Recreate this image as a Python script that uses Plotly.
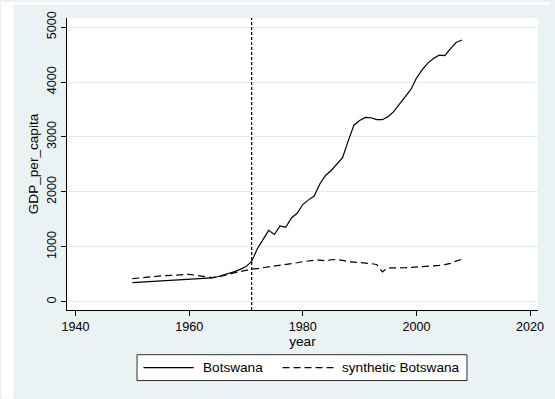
import plotly.graph_objects as go

# GDP per capita, Botswana vs. its synthetic control
years = [1950, 1955, 1960, 1964, 1965, 1966, 1967, 1968, 1969, 1970,
         1971, 1972, 1973, 1974, 1975, 1976, 1977, 1978, 1979, 1980,
         1981, 1982, 1983, 1984, 1985, 1986, 1987, 1988, 1989, 1990,
         1991, 1992, 1993, 1994, 1995, 1996, 1997, 1998, 1999, 2000,
         2001, 2002, 2003, 2004, 2005, 2006, 2007, 2008]

botswana = [350, 378, 406, 434, 455, 483, 515, 548, 590, 640,
            735, 965, 1130, 1300, 1225, 1380, 1356, 1525, 1610, 1770,
            1855, 1925, 2145, 2300, 2390, 2500, 2625, 2930, 3215, 3300,
            3355, 3350, 3315, 3315, 3370, 3460, 3600, 3740, 3860, 4070,
            4220, 4345, 4430, 4490, 4480, 4610, 4720, 4765]

synthetic = [420, 470, 500, 440, 450, 470, 500, 530, 555, 575,
             592, 605, 618, 632, 646, 660, 676, 692, 710, 730,
             748, 755, 758, 745, 765, 770, 752, 730, 722, 715,
             705, 695, 678, 545, 615, 613, 615, 620, 625, 630,
             637, 645, 652, 662, 676, 700, 740, 775]

treatment_year = 1971

x_ticks = [1940, 1960, 1980, 2000, 2020]
y_ticks = [0, 1000, 2000, 3000, 4000, 5000]

series_names = ["Botswana", "synthetic Botswana"]

BG = "#EAF2F3"
GRID = "#E4EDED"
FONT = "Liberation Sans, Arial, Helvetica, sans-serif"
TICK_SIZE = 12.6
TEXT_SIZE = 13.6

fig = go.Figure()
fig.add_trace(go.Scatter(x=years, y=botswana, mode="lines", name=series_names[0],
                         line=dict(color="black", width=1.2), showlegend=False))
fig.add_trace(go.Scatter(x=years, y=synthetic, mode="lines", name=series_names[1],
                         line=dict(color="black", width=1.2, dash="7px,4px"),
                         showlegend=False))

# vertical marker at the treatment year
fig.add_shape(type="line", xref="x", yref="paper", x0=treatment_year, x1=treatment_year,
              y0=0, y1=1, line=dict(color="black", width=1.2, dash="3px,2px"))

# white border strips along the left and top edges of the figure
W, H = 555, 399
L, R, T, B = 66.5, 544, 16, 310
pw, ph = R - L, B - T


def px_x(p):
    return (p - L) / pw


def px_y(p):
    return (B - p) / ph


fig.add_shape(type="rect", xref="paper", yref="paper", x0=px_x(0), x1=px_x(12),
              y0=px_y(H), y1=px_y(0), fillcolor="white", line_width=0, layer="below")
fig.add_shape(type="rect", xref="paper", yref="paper", x0=px_x(0), x1=px_x(W),
              y0=px_y(3), y1=px_y(0), fillcolor="white", line_width=0, layer="below")

# legend box below the plot
lx0, lx1, ly0, ly1 = 137.5, 472, 355, 381
fig.add_shape(type="rect", xref="paper", yref="paper", x0=px_x(lx0), x1=px_x(lx1),
              y0=px_y(ly1), y1=px_y(ly0), fillcolor="white",
              line=dict(color="#303030", width=1))
ly = (ly0 + ly1) / 2
fig.add_shape(type="line", xref="paper", yref="paper", x0=px_x(144), x1=px_x(195),
              y0=px_y(ly), y1=px_y(ly), line=dict(color="black", width=1.2))
fig.add_shape(type="line", xref="paper", yref="paper", x0=px_x(285), x1=px_x(337),
              y0=px_y(ly), y1=px_y(ly), line=dict(color="black", width=1.2, dash="7px,4px"))
for name, xpos in zip(series_names, [202, 343]):
    fig.add_annotation(text=name, xref="paper", yref="paper", x=px_x(xpos), y=px_y(ly),
                       xanchor="left", yanchor="middle", showarrow=False,
                       font=dict(size=TEXT_SIZE, color="black", family=FONT))

fig.update_layout(
    width=W, height=H,
    margin=dict(l=L, r=W - R, t=T, b=H - B, pad=0),
    paper_bgcolor=BG, plot_bgcolor="white",
    font=dict(family=FONT, size=TICK_SIZE, color="black"),
    showlegend=False,
)
fig.update_xaxes(range=[1938.5, 2021.4], tickvals=x_ticks, ticks="outside", ticklen=5,
                 tickcolor="black", showline=True, linecolor="black", linewidth=1,
                 showgrid=False, zeroline=False,
                 title=dict(text="year", standoff=3, font=dict(size=TEXT_SIZE)))
fig.update_yaxes(range=[-150, 5166], tickvals=y_ticks, ticks="outside", ticklen=5,
                 tickcolor="black", tickangle=-90, showline=True, linecolor="black",
                 linewidth=1, showgrid=True, gridcolor=GRID, gridwidth=1, zeroline=False,
                 title=dict(text="GDP_per_capita", standoff=3, font=dict(size=TEXT_SIZE)))

fig.write_html("out.html")
